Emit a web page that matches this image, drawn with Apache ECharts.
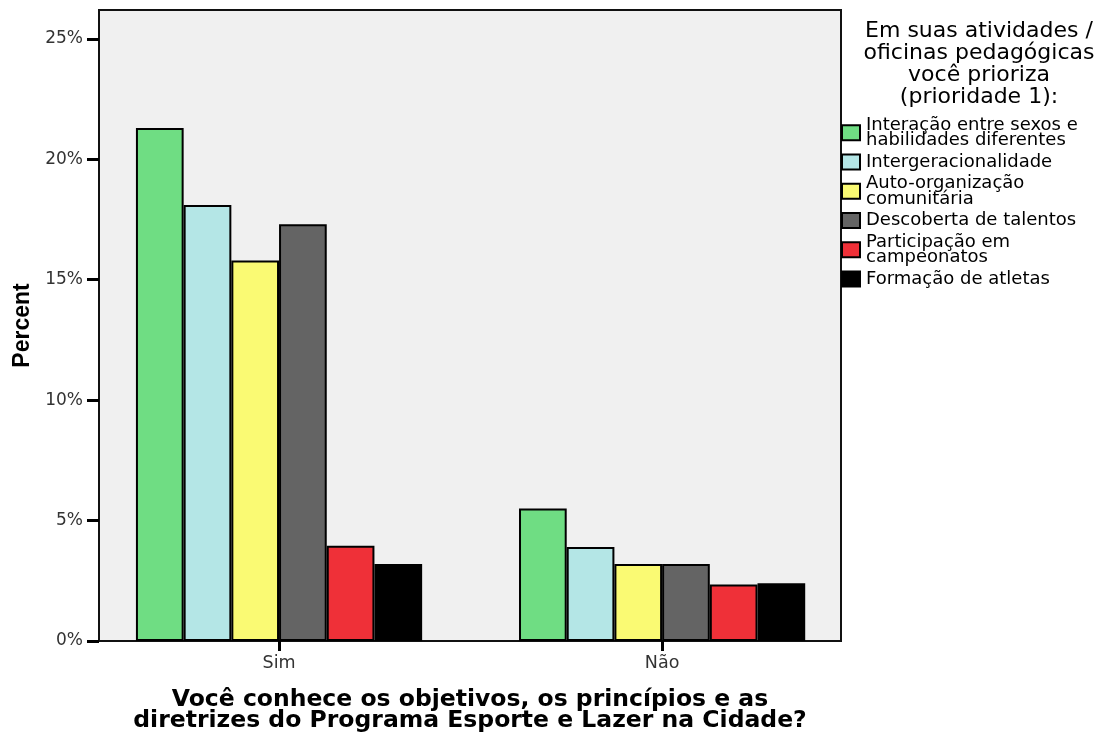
<!DOCTYPE html>
<html>
<head>
<meta charset="utf-8">
<script src="https://cdn.jsdelivr.net/npm/echarts@6/dist/echarts.min.js"></script>
<style>html,body{margin:0;padding:0;background:#fff;}#c{width:1101px;height:735px;}</style>
</head>
<body>
<div id="c"></div>
<script>
var categories = ['Sim', 'Não'];
var seriesNames = ['Interação entre sexos e habilidades diferentes', 'Intergeracionalidade', 'Auto-organização comunitária', 'Descoberta de talentos', 'Participação em campeonatos', 'Formação de atletas'];
var legendLabels = ['Interação entre sexos e\nhabilidades diferentes', 'Intergeracionalidade', 'Auto-organização\ncomunitária', 'Descoberta de talentos', 'Participação em\ncampeonatos', 'Formação de atletas'];
var interacao = [21.3, 5.5];
var intergeracional = [18.1, 3.9];
var autoOrg = [15.8, 3.2];
var descoberta = [17.3, 3.2];
var participacao = [3.95, 2.35];
var formacao = [3.2, 2.4];
var yTicks = [0, 5, 10, 15, 20, 25];
var colors = ['#6fdd83', '#b4e6e6', '#fafa73', '#646464', '#ef3038', '#000000'];
var values = [interacao, intergeracional, autoOrg, descoberta, participacao, formacao];

var font = '"DejaVu Sans", sans-serif';
var series = seriesNames.map(function (n, i) {
  return {
    name: n,
    type: 'bar',
    barWidth: 47.7,
    barGap: '0%',
    itemStyle: { color: colors[i], borderColor: '#000', borderWidth: 2 },
    data: values[i].map(function (v, j) { return [j, v]; })
  };
});

var chart = echarts.init(document.getElementById('c'));
chart.setOption({
  animation: false,
  title: {
    text: 'Em suas atividades /\noficinas pedagógicas\nvocê prioriza\n(prioridade 1):',
    left: 979, top: 20, padding: 0, textAlign: 'center',
    textStyle: { fontFamily: font, fontSize: 22, fontWeight: 'normal', color: '#000', lineHeight: 22 }
  },
  legend: {
    orient: 'vertical', left: 841, top: 116, padding: 0,
    itemWidth: 18, itemHeight: 15, itemGap: 3.5,
    icon: 'rect',
    data: seriesNames,
    formatter: function (n) { return legendLabels[seriesNames.indexOf(n)]; },
    textStyle: { fontFamily: font, fontSize: 18, lineHeight: 15.5, color: '#000', padding: [0, 0, 0, 1] }
  },
  grid: {
    left: 99, right: 260, top: 10, bottom: 94,
    outerBoundsMode: 'none', containLabel: false,
    show: true, backgroundColor: '#f0f0f0', borderColor: '#111', borderWidth: 2
  },
  xAxis: {
    type: 'value', min: -0.47, max: 1.467,
    name: 'Você conhece os objetivos, os princípios e as\ndiretrizes do Programa Esporte e Lazer na Cidade?',
    nameLocation: 'middle', nameGap: 49,
    nameTextStyle: { fontFamily: font, fontSize: 23.5, fontWeight: 'bold', color: '#000', lineHeight: 20.5 },
    axisLine: { show: true, onZero: false, lineStyle: { color: '#111', width: 2 } },
    splitLine: { show: false },
    axisTick: { show: true, customValues: [0, 1], length: 10, lineStyle: { color: '#000', width: 3 } },
    axisLabel: {
      customValues: [0, 1], margin: 13,
      formatter: function (v) { return categories[Math.round(v)]; },
      fontFamily: font, fontSize: 17.5, color: '#333'
    }
  },
  yAxis: {
    type: 'value', min: 0, max: 26.2,
    name: 'Percent', nameLocation: 'middle', nameGap: 64, nameRotate: 90,
    nameTextStyle: { fontFamily: '"Liberation Sans", Arial, sans-serif', fontSize: 23, fontWeight: 'bold', color: '#000' },
    axisLine: { show: true, onZero: false, lineStyle: { color: '#111', width: 2 } },
    splitLine: { show: false },
    axisTick: { show: true, customValues: yTicks, length: 12, lineStyle: { color: '#000', width: 3 } },
    axisLabel: {
      customValues: yTicks, margin: 16,
      formatter: '{value}%',
      fontFamily: font, fontSize: 17, color: '#333'
    }
  },
  series: series
});
</script>
</body>
</html>
